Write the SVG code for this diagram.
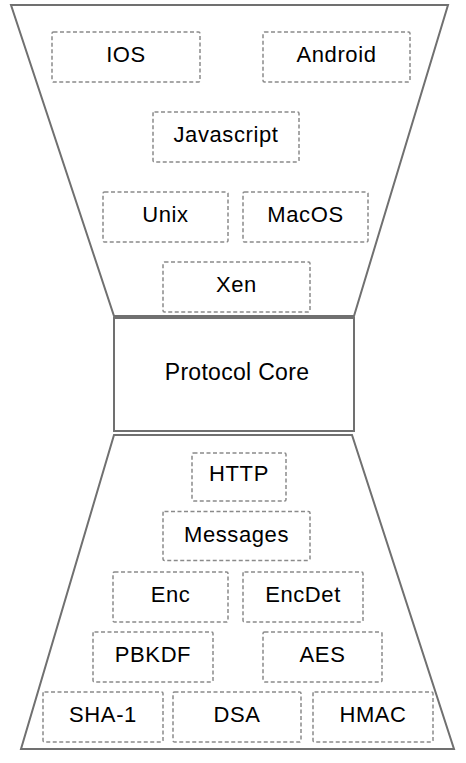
<svg xmlns="http://www.w3.org/2000/svg" width="466" height="763" viewBox="0 0 466 763">
<style>
.frame{fill:#fff;stroke:#707070;stroke-width:2}
.box{fill:#fff;stroke:#8a8a8a;stroke-width:1.5;stroke-dasharray:4 2.5}
.lbl{font-family:"Liberation Sans",Arial,Helvetica,sans-serif;font-size:22px;fill:#000;text-anchor:middle;letter-spacing:0.6px}
.core{font-size:23px;letter-spacing:0.3px}
</style>
<rect width="466" height="763" fill="#fff"/>
<g id="frames">
<polygon class="frame" points="11,5 448,5 354,316 114,316"/>
<polygon class="frame" points="114,435 352,435 454,749 21,749"/>
</g>
<g id="connectors"/>
<g id="protocol-core">
<rect class="frame" x="114" y="318" width="240" height="113"/>
<text class="lbl core" x="237" y="380">Protocol Core</text>
</g>
<g id="ios"><rect class="box" x="52" y="32" width="148" height="50" rx="1.5"/><text class="lbl" x="126" y="61.7">IOS</text></g>
<g id="android"><rect class="box" x="263" y="32" width="147" height="50" rx="1.5"/><text class="lbl" x="336.5" y="61.7">Android</text></g>
<g id="javascript"><rect class="box" x="153" y="112" width="146" height="50" rx="1.5"/><text class="lbl" x="226" y="141.7">Javascript</text></g>
<g id="unix"><rect class="box" x="103" y="192" width="125" height="50" rx="1.5"/><text class="lbl" x="165.5" y="221.5">Unix</text></g>
<g id="macos"><rect class="box" x="243" y="192" width="125" height="50" rx="1.5"/><text class="lbl" x="305.5" y="221.5">MacOS</text></g>
<g id="xen"><rect class="box" x="163" y="262" width="147" height="50" rx="1.5"/><text class="lbl" x="236.5" y="291.5">Xen</text></g>
<g id="http"><rect class="box" x="192" y="453" width="94" height="48" rx="1.5"/><text class="lbl" x="239" y="480.7">HTTP</text></g>
<g id="messages"><rect class="box" x="163" y="511.5" width="147" height="49" rx="1.5"/><text class="lbl" x="236.5" y="542">Messages</text></g>
<g id="enc"><rect class="box" x="113" y="572" width="115" height="50" rx="1.5"/><text class="lbl" x="170.5" y="601.7">Enc</text></g>
<g id="encdet"><rect class="box" x="243" y="572" width="120" height="50" rx="1.5"/><text class="lbl" x="303" y="601.7">EncDet</text></g>
<g id="pbkdf"><rect class="box" x="93" y="632" width="120" height="50" rx="1.5"/><text class="lbl" x="153" y="661.7">PBKDF</text></g>
<g id="aes"><rect class="box" x="263" y="632" width="119" height="50" rx="1.5"/><text class="lbl" x="322.5" y="661.7">AES</text></g>
<g id="sha1"><rect class="box" x="43" y="692" width="120" height="50" rx="1.5"/><text class="lbl" x="103" y="721.7">SHA-1</text></g>
<g id="dsa"><rect class="box" x="173" y="692" width="128" height="50" rx="1.5"/><text class="lbl" x="237" y="721.7">DSA</text></g>
<g id="hmac"><rect class="box" x="313" y="692" width="120" height="50" rx="1.5"/><text class="lbl" x="373" y="721.7">HMAC</text></g>
</svg>
